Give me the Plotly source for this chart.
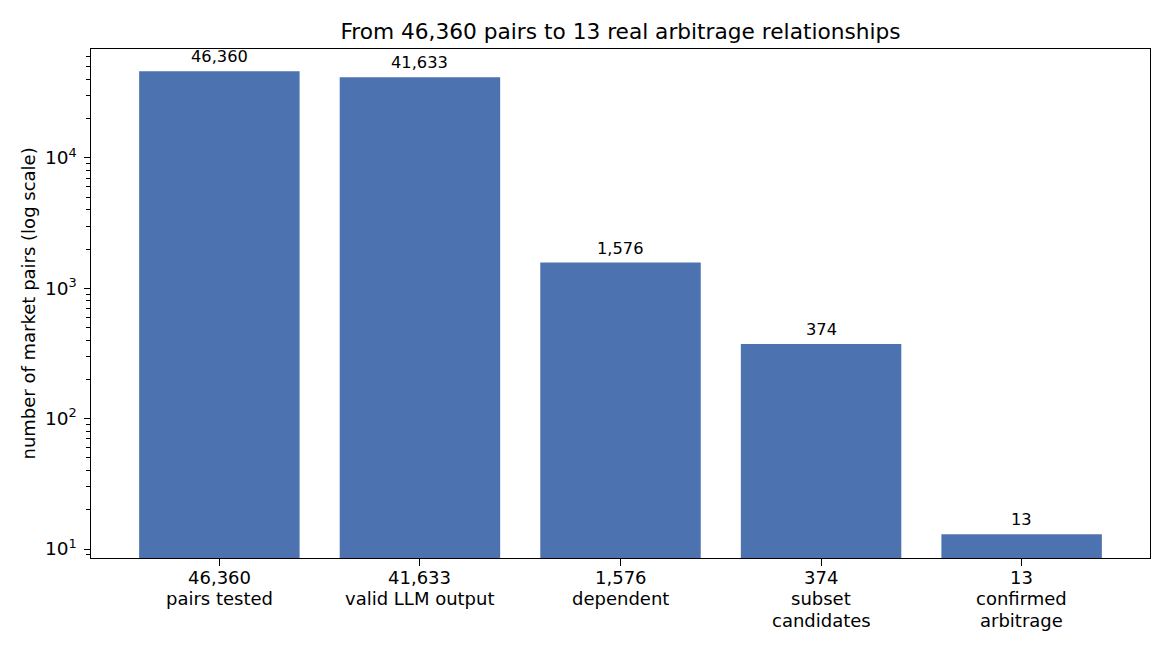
import numpy as np
import plotly.graph_objects as go

stages = ["pairs tested", "valid LLM output", "dependent", "subset\ncandidates", "confirmed\narbitrage"]
counts = [46360, 41633, 1576, 374, 13]
ytick_vals = [10, 100, 1000, 10000]
ytick_text = ["10<sup>1</sup>", "10<sup>2</sup>", "10<sup>3</sup>", "10<sup>4</sup>"]
minor_vals = [d * 10 ** k for k in range(0, 5) for d in range(2, 10)]

BLUE = "#4C72B0"
FONT = "DejaVu Sans"

xpos = list(range(len(counts)))

fig = go.Figure()
fig.add_trace(go.Bar(x=xpos, y=counts, width=0.8, marker=dict(color=BLUE, line=dict(width=0)),
                     showlegend=False, hoverinfo="skip"))

for x, c in zip(xpos, counts):
    fig.add_annotation(x=x, y=np.log10(c), xref="x", yref="y", text=f"{c:,}", showarrow=False,
                       yanchor="bottom", yshift=3, font=dict(family=FONT, size=16.25, color="black"))

# x tick labels (matplotlib-like line spacing)
for x, c, s in zip(xpos, counts, stages):
    lines = [f"{c:,}"] + s.split("\n")
    for i, ln in enumerate(lines):
        fig.add_annotation(x=x, y=0, xref="x", yref="paper", text=ln, showarrow=False,
                           xanchor="center", yanchor="middle", yshift=-(19 + 21.6 * i),
                           font=dict(family=FONT, size=18, color="black"))

fig.add_annotation(x=(28 - 91) / 1059, y=0.5, xref="paper", yref="paper",
                   text="number of market pairs (log scale)", textangle=-90, showarrow=False,
                   xanchor="center", yanchor="middle", font=dict(family=FONT, size=18, color="black"))

fig.update_layout(
    width=1170, height=650,
    margin=dict(l=91, r=20, t=49, b=92),
    plot_bgcolor="white", paper_bgcolor="white",
    font=dict(family=FONT, color="black"),
    title=dict(text="From 46,360 pairs to 13 real arbitrage relationships", x=0.5 * (91 + 1150) / 1170,
               xanchor="center", y=1 - 31 / 650, yanchor="middle", yref="container",
               font=dict(family=FONT, size=21.7, color="black")),
    bargap=0.2,
)
fig.update_xaxes(range=[-0.64, 4.64], tickmode="array", tickvals=xpos, showticklabels=False,
                 ticks="outside", ticklen=6.3, tickwidth=1.4, tickcolor="black",
                 showline=True, linecolor="black", linewidth=1.4, mirror=True,
                 showgrid=False, zeroline=False)
fig.update_yaxes(type="log", range=[0.931, 4.836], tickmode="array", tickvals=ytick_vals, ticktext=ytick_text,
                 tickfont=dict(family=FONT, size=18.5, color="black"),
                 ticks="outside", ticklen=6.3, tickwidth=1.4, tickcolor="black", ticklabelstandoff=3,
                 minor=dict(tickmode="array", tickvals=minor_vals, ticks="outside", ticklen=3.6,
                            tickwidth=1.1, tickcolor="black", showgrid=False),
                 showline=True, linecolor="black", linewidth=1.4, mirror=True,
                 showgrid=False, zeroline=False)

fig.write_html("out.html")
